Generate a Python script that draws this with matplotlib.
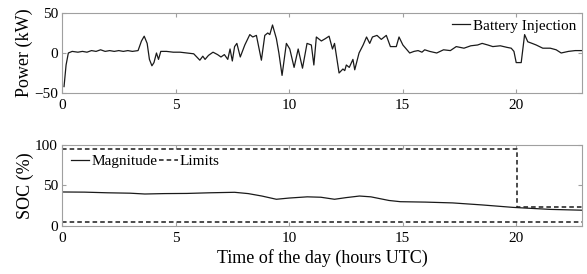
import matplotlib
matplotlib.use("Agg")
import matplotlib.pyplot as plt

plt.rcParams['font.family'] = ['Liberation Serif', 'DejaVu Serif']
plt.rcParams['font.size'] = 11

# battery injection power (kW) over the day
t_power = [0.09, 0.18, 0.28, 0.45, 0.7, 0.9, 1.1, 1.3, 1.5, 1.7, 1.9, 2.1, 2.3, 2.5,
           2.7, 2.9, 3.1, 3.35, 3.5, 3.62, 3.75, 3.85, 3.96, 4.05, 4.16, 4.25, 4.35,
           4.6, 4.9, 5.2, 5.5, 5.8, 6.07, 6.2, 6.3, 6.45, 6.65, 6.85, 7.0, 7.15, 7.3,
           7.4, 7.5, 7.6, 7.7, 7.85, 8.05, 8.27, 8.4, 8.56, 8.78, 8.93, 9.06, 9.15,
           9.27, 9.44, 9.55, 9.69, 9.88, 10.03, 10.22, 10.4, 10.59, 10.79, 10.98,
           11.09, 11.2, 11.42, 11.6, 11.76, 11.91, 12.0, 12.2, 12.37, 12.45, 12.52,
           12.65, 12.81, 12.89, 13.08, 13.26, 13.41, 13.55, 13.67, 13.87, 14.06,
           14.28, 14.46, 14.72, 14.84, 15.01, 15.16, 15.31, 15.5, 15.68, 15.85,
           15.97, 16.19, 16.5, 16.8, 17.1, 17.36, 17.7, 18.0, 18.3, 18.5, 18.75,
           18.97, 19.3, 19.6, 19.78, 19.9, 20.0, 20.22, 20.37, 20.51, 20.7, 20.88,
           21.17, 21.5, 21.76, 21.98, 22.3, 22.6, 22.9]
power = [-42, -15, 0, 2, 1, 2, 1, 3, 2, 4, 2, 3, 2, 3,
         2, 3, 2, 3, 15, 21, 12, -8, -16, -12, 0, -8, 2,
         2, 1, 1, 0, -1, -9, -4, -8, -3, 1, -2, -5, -2, -8,
         5, -10, 8, 12, -5, 10, 23, 20, 22, -9, 22, 25, 23,
         35, 18, 0, -28, 12, 5, -18, 5, -19, 12, 10,
         -15, 20, 15, 18, 21, 5, 12, -25, -20, -22, -15,
         -18, -8, -21, 0, 10, 20, 12, 20, 22, 17,
         22, 8, 8, 20, 10, 5, 0, 2, 3, 1,
         4, 2, 0, 4, 3, 8, 6, 9, 10, 12, 10,
         8, 9, 7, 6, 2, -12, -12, 23, 14, 12, 10,
         6, 6, 4, 0, 2, 3, 3]

# state of charge (%)
t_soc = [0.0, 1.0, 2.0, 3.0, 3.65, 4.5, 5.5, 6.5, 7.6, 8.2, 8.8, 9.44, 10.0, 10.8,
         11.4, 12.0, 12.5, 13.1, 13.6, 14.4, 14.9, 16.0, 17.2, 18.5, 19.85, 20.5,
         21.5, 22.9]
soc = [42, 41.8, 41, 40.5, 39.5, 40, 40.2, 41, 41.6, 40, 37, 33, 34.5, 36,
       35.5, 33, 35, 37, 36, 31.5, 30, 29.5, 28.5, 26, 23, 22, 20.5, 19.5]

t_lim_upper = [0, 20.05, 20.05, 22.9]
lim_upper = [95, 95, 24, 24]
t_lim_lower = [0, 22.9]
lim_lower = [5, 5]

spine_col = '#a0a0a0'
line_col = '#1a1a1a'

fig = plt.figure(figsize=(5.87, 2.74), dpi=100)
ax1 = fig.add_axes([0.1056, 0.6606, 0.886, 0.292])
ax2 = fig.add_axes([0.1056, 0.1752, 0.886, 0.2956])

ax1.plot(t_power, power, color=line_col, lw=0.9, label='Battery Injection')
ax1.set_ylim(-50, 50)
ax1.set_yticks([-50, 0, 50])
ax1.set_ylabel('Power (kW)', fontsize=13, labelpad=1)
ax1.legend(loc='upper right', frameon=False, fontsize=11, handlelength=1.2,
           handletextpad=0.15, borderaxespad=0.2, borderpad=0.2)

ax2.plot(t_soc, soc, color=line_col, lw=0.9, label='Magnitude')
ax2.plot(t_lim_upper, lim_upper, color=line_col, lw=1.1, ls='--', dashes=(3, 2),
         label='Limits')
ax2.plot(t_lim_lower, lim_lower, color=line_col, lw=1.1, ls='--', dashes=(3, 2))
ax2.set_ylim(0, 100)
ax2.set_yticks([0, 50, 100])
ax2.set_ylabel('SOC (%)', fontsize=13, labelpad=1)
ax2.set_xlabel('Time of the day (hours UTC)', fontsize=13, labelpad=3)
ax2.legend(loc='upper left', ncol=2, frameon=False, fontsize=11, handlelength=1.2,
           handletextpad=0.15, columnspacing=0.1, borderaxespad=0.3, borderpad=0.3)

for ax in (ax1, ax2):
    ax.set_xlim(0, 22.9)
    ax.set_xticks([0, 5, 10, 15, 20])
    ax.tick_params(direction='in', top=True, right=True, length=3, color=spine_col,
                   labelsize=11)
    ax.tick_params(axis='x', pad=4)
    ax.tick_params(axis='y', pad=3)
    for s in ax.spines.values():
        s.set_color(spine_col)
        s.set_linewidth(0.8)

fig.savefig('out.png', dpi=100)
